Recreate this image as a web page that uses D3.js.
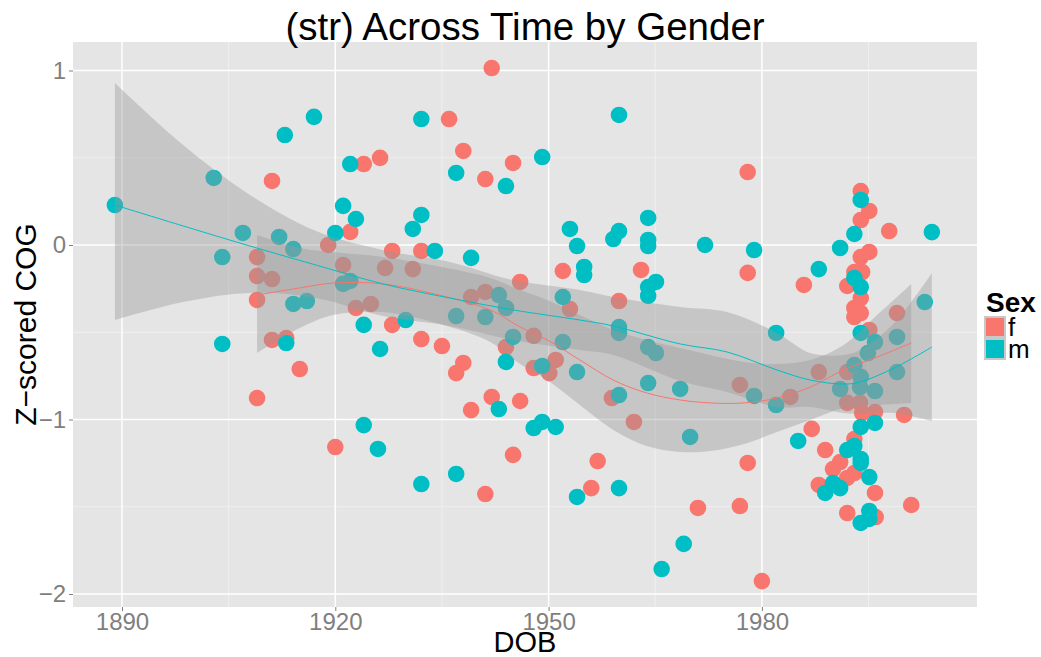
<!DOCTYPE html>
<html>
<head>
<meta charset="utf-8">
<script src="https://cdn.jsdelivr.net/npm/d3@7"></script>
<style>
  body { margin: 0; background: #fff; }
  svg { display: block; font-family: "Liberation Sans", Arial, sans-serif; }
  .axis text { fill: #7f7f7f; }
  .axis line { stroke: #7f7f7f; }
  .axis path { display: none; }
</style>
</head>
<body>
<svg id="chart"></svg>
<script>
// ---- data ----
const groups = ['f', 'm'];
const colors = ['#F8766D', '#00BFC4'];

// DOB (year) and z-scored COG, females
const fYear = [1942.0, 1936.0, 1938.0, 1945.0, 1941.1, 1926.3, 1924.0, 1911.1, 1922.1, 1919.0,
  1909.0, 1921.1, 1909.0, 1911.1, 1927.0, 1909.0, 1922.9, 1925.0, 1911.1, 1913.1,
  1915.0, 1909.0, 1920.0, 1928.0, 1932.1, 1930.9, 1952.0, 1963.0, 1946.0, 1939.1,
  1941.1, 1953.0, 1959.9, 1928.0, 1947.9, 1944.0, 1932.1, 1935.0, 1938.0, 1937.0,
  1951.0, 1947.9, 1950.1, 1958.9, 1942.0, 1946.0, 1939.1, 1962.0, 1941.1, 1945.0,
  1956.9, 1956.0, 1971.0, 1976.9, 1978.0, 1980.0, 1987.0, 1988.9, 1978.0, 1978.0,
  1985.9, 1993.9, 1995.1, 1993.9, 1997.9, 1995.1, 1993.9, 1993.0, 1994.1, 1992.0,
  1993.9, 1993.0, 1993.9, 1993.0, 1999.0, 1995.1, 1988.0, 1992.0, 1976.9, 1984.0,
  1992.0, 1993.8, 1994.1, 1995.9, 2000.0, 1993.0, 1991.0, 1990.0, 1993.0, 1992.0,
  1988.0, 1995.9, 2001.0, 1992.0, 1996.0];
const fCog = [1.014, 0.722, 0.539, 0.470, 0.378, 0.499, 0.464, 0.367, 0.075, 0.000,
  -0.069, -0.115, -0.178, -0.195, -0.132, -0.315, -0.361, -0.338, -0.544, -0.533,
  -0.711, -0.877, -1.158, -0.034, -0.034, -0.138, -0.149, -0.143, -0.212, -0.298,
  -0.269, -0.367, -0.321, -0.458, -0.521, -0.585, -0.539, -0.579, -0.676, -0.734,
  -0.659, -0.705, -0.734, -0.877, -0.871, -0.894, -0.946, -1.014, -1.427, -1.203,
  -1.238, -1.393, -1.507, -1.496, -1.249, -1.926, -1.054, -1.175, 0.418, -0.160,
  -0.229, 0.309, 0.195, 0.143, 0.080, -0.040, -0.069, -0.155, -0.155, -0.235,
  -0.304, -0.361, -0.390, -0.413, -0.390, -0.487, -0.728, -0.728, -0.802, -0.871,
  -0.905, -0.905, -0.963, -0.957, -0.974, -1.112, -1.244, -1.284, -1.307, -1.335,
  -1.375, -1.421, -1.490, -1.536, -1.559];

// males
const mYear = [1889.0, 1902.9, 1904.1, 1904.1, 1907.0, 1912.1, 1914.1, 1912.9, 1917.0, 1921.1,
  1922.9, 1920.0, 1922.1, 1921.1, 1922.1, 1914.1, 1916.0, 1924.0, 1913.1, 1926.3,
  1924.0, 1926.0, 1932.1, 1937.0, 1949.1, 1944.0, 1932.1, 1930.9, 1934.0, 1939.1,
  1953.0, 1954.0, 1959.1, 1959.9, 1959.9, 1964.0, 1964.0, 1964.0, 1955.0, 1955.0,
  1964.0, 1965.1, 1964.0, 1943.0, 1944.0, 1937.0, 1941.1, 1929.9, 1959.9, 1959.9,
  1945.0, 1952.0, 1952.0, 1944.0, 1949.1, 1954.0, 1964.0, 1965.1, 1964.0, 1968.5,
  1959.9, 1943.0, 1949.1, 1951.0, 1947.9, 1932.1, 1937.0, 1954.0, 1959.9, 1965.9,
  1969.0, 1969.9, 1972.0, 1978.9, 1982.0, 1988.0, 1991.0, 1993.0, 1993.9, 2003.9,
  2002.9, 1993.0, 1993.9, 1993.9, 1995.9, 1999.0, 1994.9, 1993.0, 1993.9, 1999.0,
  1978.9, 1982.0, 1991.0, 1993.8, 1995.9, 1993.9, 1995.9, 1985.1, 1992.0, 1993.0,
  1993.9, 1993.9, 1995.1, 1990.0, 1991.0, 1988.9, 1995.1, 1995.1, 1993.9];
const mCog = [0.229, 0.384, -0.069, -0.567, 0.069, 0.046, -0.023, 0.630, 0.734, 0.224,
  0.149, 0.069, 0.464, -0.223, -0.206, -0.338, -0.321, -0.458, -0.562, -0.596,
  -1.032, -1.169, 0.722, 0.413, 0.504, 0.338, 0.172, 0.092, -0.034, -0.074,
  0.092, -0.006, 0.034, 0.080, 0.745, 0.155, 0.029, -0.006, -0.126, -0.172,
  -0.241, -0.212, -0.292, -0.287, -0.361, -0.407, -0.413, -0.430, -0.470, -0.504,
  -0.527, -0.298, -0.556, -0.670, -0.693, -0.728, -0.585, -0.619, -0.791, -0.825,
  -0.860, -0.940, -1.014, -1.043, -1.049, -1.370, -1.312, -1.444, -1.393, -1.857,
  -1.713, -1.100, 0.000, -0.029, -0.504, -0.138, -0.017, 0.063, 0.258, 0.074,
  -0.327, -0.189, -0.241, -0.504, -0.556, -0.527, -0.619, -0.688, -0.756, -0.728,
  -0.865, -0.917, -0.825, -0.814, -0.837, -1.043, -1.020, -1.123, -1.175, -1.152,
  -1.226, -1.249, -1.330, -1.364, -1.393, -1.421, -1.524, -1.570, -1.593];

// loess smooth and its confidence band, read at a few years
const fSmoothYear = [1909.0, 1915.0, 1919.7, 1926.7, 1935.7, 1941.8, 1946.0, 1949.8, 1954.4, 1959.1,
  1963.8, 1968.5, 1972.7, 1977.5, 1982.1, 1986.8, 1991.5, 1996.2, 2001.0];
const fFit = [-0.287, -0.246, -0.218, -0.223, -0.298, -0.372, -0.470, -0.544, -0.659, -0.774,
  -0.848, -0.888, -0.905, -0.905, -0.877, -0.814, -0.716, -0.642, -0.562];
const fUpper = [0.057, -0.017, -0.040, -0.069, -0.132, -0.189, -0.258, -0.315, -0.401, -0.487,
  -0.544, -0.590, -0.630, -0.670, -0.682, -0.659, -0.573, -0.401, -0.223];
const fLower = [-0.619, -0.476, -0.401, -0.384, -0.464, -0.556, -0.682, -0.774, -0.917, -1.060,
  -1.152, -1.186, -1.181, -1.140, -1.072, -1.003, -0.934, -0.917, -0.905];

const mSmoothYear = [1889.0, 1898.6, 1908.0, 1917.3, 1926.7, 1936.1, 1945.0, 1954.4, 1959.1, 1968.5,
  1975.1, 1982.1, 1986.8, 1991.5, 1993.8, 1998.6, 2003.9];
const mFit = [0.229, 0.109, -0.006, -0.115, -0.223, -0.304, -0.372, -0.430, -0.464, -0.567,
  -0.613, -0.716, -0.774, -0.797, -0.785, -0.705, -0.585];
const mUpper = [0.928, 0.573, 0.287, 0.080, -0.029, -0.097, -0.201, -0.258, -0.298, -0.355,
  -0.384, -0.504, -0.619, -0.630, -0.602, -0.447, -0.160];
const mLower = [-0.430, -0.327, -0.275, -0.304, -0.407, -0.464, -0.544, -0.602, -0.630, -0.779,
  -0.842, -0.928, -0.928, -0.963, -0.968, -0.963, -1.009];

const xTicks = [1890, 1920, 1950, 1980];
const xMinor = [1905, 1935, 1965, 1995];
const yTicks = [-2, -1, 0, 1];
const yMinor = [-1.5, -0.5, 0.5];

// ---- layout ----
const width = 1041, height = 657;
const panel = { left: 73, right: 977, top: 42, bottom: 607 };

const svg = d3.select('#chart')
  .attr('width', width)
  .attr('height', height);

const x = d3.scaleLinear().domain([1883.11, 2010.25]).range([panel.left, panel.right]);
const y = d3.scaleLinear().domain([-2.0745, 1.1633]).range([panel.bottom, panel.top]);

// panel background + grid
svg.append('rect')
  .attr('x', panel.left).attr('y', panel.top)
  .attr('width', panel.right - panel.left).attr('height', panel.bottom - panel.top)
  .attr('fill', '#E5E5E5');

const grid = svg.append('g');
grid.selectAll('.vminor').data(xMinor).join('line')
  .attr('x1', d => x(d)).attr('x2', d => x(d))
  .attr('y1', panel.top).attr('y2', panel.bottom)
  .attr('stroke', '#F2F2F2').attr('stroke-width', 0.8);
grid.selectAll('.hminor').data(yMinor).join('line')
  .attr('y1', d => y(d)).attr('y2', d => y(d))
  .attr('x1', panel.left).attr('x2', panel.right)
  .attr('stroke', '#F2F2F2').attr('stroke-width', 0.8);
grid.selectAll('.vmajor').data(xTicks).join('line')
  .attr('x1', d => x(d)).attr('x2', d => x(d))
  .attr('y1', panel.top).attr('y2', panel.bottom)
  .attr('stroke', '#fff').attr('stroke-width', 1.5);
grid.selectAll('.hmajor').data(yTicks).join('line')
  .attr('y1', d => y(d)).attr('y2', d => y(d))
  .attr('x1', panel.left).attr('x2', panel.right)
  .attr('stroke', '#fff').attr('stroke-width', 1.5);

// points first, smooths drawn over them
const points = [];
fYear.forEach((d, i) => points.push({ year: d, cog: fCog[i], sex: 'f' }));
mYear.forEach((d, i) => points.push({ year: d, cog: mCog[i], sex: 'm' }));
const color = d3.scaleOrdinal().domain(groups).range(colors);

svg.append('g').selectAll('circle')
  .data(points)
  .join('circle')
  .attr('cx', d => x(d.year))
  .attr('cy', d => y(d.cog))
  .attr('r', 8.3)
  .attr('fill', d => color(d.sex));

const smooths = [
  { sex: 'f', year: fSmoothYear, fit: fFit, lo: fLower, hi: fUpper },
  { sex: 'm', year: mSmoothYear, fit: mFit, lo: mLower, hi: mUpper }
];

const area = d3.area()
  .x(d => x(d.year))
  .y0(d => y(d.lo))
  .y1(d => y(d.hi))
  .curve(d3.curveCatmullRom);
const line = d3.line()
  .x(d => x(d.year))
  .y(d => y(d.fit))
  .curve(d3.curveCatmullRom);

smooths.forEach(s => {
  const rows = s.year.map((yr, i) => ({ year: yr, fit: s.fit[i], lo: s.lo[i], hi: s.hi[i] }));
  svg.append('path')
    .datum(rows)
    .attr('d', area)
    .attr('fill', '#999999')
    .attr('fill-opacity', 0.4);
  s.rows = rows;
});
smooths.forEach(s => {
  svg.append('path')
    .datum(s.rows)
    .attr('d', line)
    .attr('fill', 'none')
    .attr('stroke', color(s.sex))
    .attr('stroke-width', 1);
});

// axes
const xAxis = d3.axisBottom(x).tickValues(xTicks).tickSize(4).tickPadding(2).tickFormat(d3.format('d'));
const yAxis = d3.axisLeft(y).tickValues(yTicks).tickSize(4).tickPadding(3)
  .tickFormat(d => d < 0 ? '\u2212' + Math.abs(d) : d);

svg.append('g')
  .attr('class', 'axis')
  .attr('transform', `translate(0,${panel.bottom})`)
  .call(xAxis)
  .selectAll('text').attr('font-size', 24);

svg.append('g')
  .attr('class', 'axis')
  .attr('transform', `translate(${panel.left},0)`)
  .call(yAxis)
  .selectAll('text').attr('font-size', 24);

// titles
svg.append('text')
  .attr('x', (panel.left + panel.right) / 2)
  .attr('y', 40)
  .attr('text-anchor', 'middle')
  .attr('font-size', 38.5)
  .text('(str) Across Time by Gender');

svg.append('text')
  .attr('x', (panel.left + panel.right) / 2)
  .attr('y', 652)
  .attr('text-anchor', 'middle')
  .attr('font-size', 29)
  .text('DOB');

svg.append('text')
  .attr('transform', `translate(36,${(panel.top + panel.bottom) / 2}) rotate(-90)`)
  .attr('text-anchor', 'middle')
  .attr('font-size', 30)
  .text('Z\u2212scored COG');

// legend
const legend = svg.append('g').attr('transform', 'translate(984,0)');
legend.append('text')
  .attr('x', 2).attr('y', 312)
  .attr('font-size', 28).attr('font-weight', 'bold')
  .text('Sex');
groups.forEach((g, i) => {
  const ky = 316 + i * 22;
  legend.append('rect')
    .attr('x', 0).attr('y', ky).attr('width', 22).attr('height', 22)
    .attr('fill', '#C8C8C8');
  legend.append('rect')
    .attr('x', 2).attr('y', ky + 2).attr('width', 18).attr('height', 18)
    .attr('fill', colors[i]);
  legend.append('text')
    .attr('x', 24).attr('y', ky + 20)
    .attr('font-size', 26)
    .text(g);
});
</script>
</body>
</html>
